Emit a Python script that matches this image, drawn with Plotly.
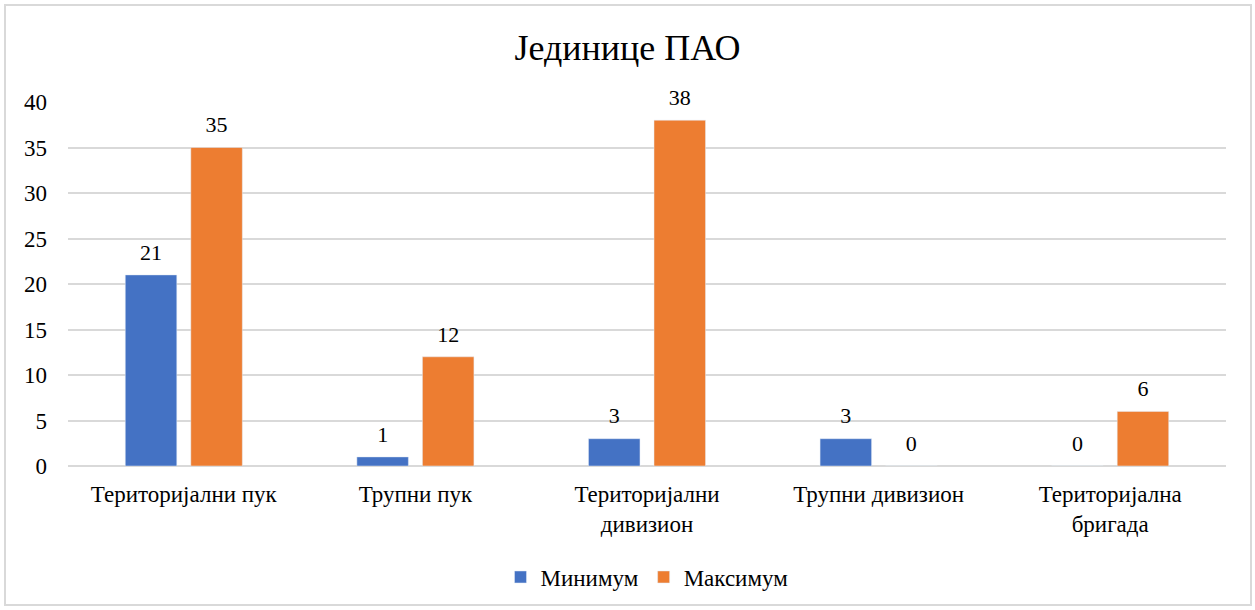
import plotly.graph_objects as go

categories = ["Територијални пук", "Трупни пук", "Територијални<br>дивизион", "Трупни дивизион", "Територијална<br>бригада"]
minimum = [21, 1, 3, 3, 0]
maximum = [35, 12, 38, 0, 6]
series_names = ["Минимум", "Максимум"]
title_text = "Јединице ПАО"

FONT = "Liberation Serif"
FS = 23
W, H = 1255, 610
ML, MR, MT, MB = 68, 29, 102, 144
COLORS = ["#4472C4", "#ED7D31"]

fig = go.Figure()
for name, vals, col in zip(series_names, [minimum, maximum], COLORS):
    fig.add_trace(go.Bar(x=categories, y=vals, name=name, marker_color=col,
                         offsetgroup=name, hoverinfo="skip"))
for name, vals in zip(series_names, [minimum, maximum]):
    fig.add_trace(go.Scatter(x=categories, y=vals, mode="markers+text", text=vals,
                             textposition="top center", offsetgroup=name,
                             marker=dict(size=14, color="rgba(0,0,0,0)"),
                             textfont=dict(family=FONT, size=FS - 1, color="#000000"),
                             showlegend=False, hoverinfo="skip", cliponaxis=False))

pw = W - ML - MR
ph = H - MT - MB
fig.add_shape(type="rect", xref="paper", yref="paper",
              x0=(5 - ML) / pw, x1=(W - 4 - ML) / pw,
              y0=-(H - 5 - MT - ph) / ph, y1=(MT - 5) / ph + 1,
              line=dict(color="#D9D9D9", width=2), fillcolor="rgba(0,0,0,0)", layer="below")

fig.update_layout(
    width=W, height=H,
    margin=dict(l=ML, r=MR, t=MT, b=MB),
    paper_bgcolor="white", plot_bgcolor="white",
    title=dict(text=title_text, x=0.5, xanchor="center", y=0.922, yanchor="middle",
               font=dict(family=FONT, size=36, color="#000000")),
    barmode="group", bargap=0.434, bargroupgap=0.214,
    scattermode="group", scattergap=0.434,
    font=dict(family=FONT, size=FS, color="#000000"),
    legend=dict(orientation="h", x=0.5, xanchor="center", y=-0.305, yanchor="middle",
                font=dict(family=FONT, size=FS, color="#000000"), itemwidth=30,
                traceorder="normal"),
)
fig.update_yaxes(range=[0, 40], dtick=5, showgrid=True, gridcolor="#D9D9D9", gridwidth=1.5,
                 zeroline=True, zerolinecolor="#D9D9D9", zerolinewidth=1.5,
                 tickfont=dict(family=FONT, size=FS, color="#000000"), ticklabelstandoff=20,
                 showline=False)
fig.update_xaxes(showline=False, tickfont=dict(family=FONT, size=FS, color="#000000"),
                 ticklabelstandoff=12)

fig.write_html("out.html", config={"displayModeBar": False},
               post_script="document.body.style.margin='0';document.body.style.padding='0';")
